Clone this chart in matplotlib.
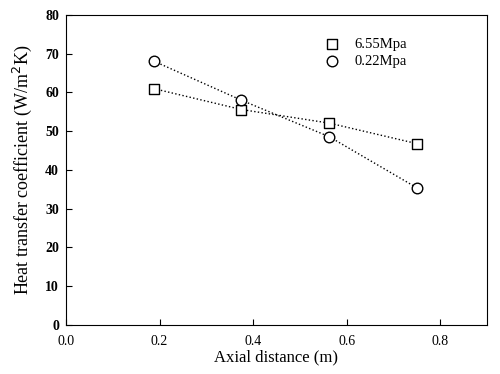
import matplotlib
matplotlib.use("Agg")
from matplotlib import pyplot as plt

# axial positions (m) and heat transfer coefficients (W/m2K)
x_vals = [0.1875, 0.375, 0.5625, 0.75]
h_655 = [61.0, 55.6, 52.1, 46.8]
h_022 = [68.1, 58.0, 48.6, 35.4]
labels = ["6.55Mpa", "0.22Mpa"]

plt.rcParams['font.family'] = ['Liberation Serif', 'DejaVu Serif']

fig = plt.figure(figsize=(5, 3.74), dpi=100)
ax = fig.add_axes([0.132, 0.131, 0.842, 0.829])

ax.plot(x_vals, h_655, ls=':', color='black', lw=1.0)
ax.plot(x_vals, h_022, ls=':', color='black', lw=1.0)
ax.scatter(x_vals, h_655, marker='s', s=42, facecolor='white',
           edgecolor='black', linewidth=1.0, zorder=3, label=labels[0])
ax.scatter(x_vals, h_022, marker='o', s=58, facecolor='white',
           edgecolor='black', linewidth=1.0, zorder=3, label=labels[1])

ax.set_xlim(0, 0.9)
ax.set_ylim(0, 80)
ax.set_xticks([0.0, 0.2, 0.4, 0.6, 0.8])
ax.set_xticklabels(["0.0", "0.2", "0.4", "0.6", "0.8"])
ax.set_yticks(range(0, 81, 10))
ax.tick_params(direction='in', length=4, labelsize=10)
ax.tick_params(axis='x', pad=7)
ax.tick_params(axis='y', pad=5)
for lbl in ax.get_yticklabels():
    lbl.set_fontweight('bold')

ax.set_xlabel("Axial distance (m)", fontsize=12, labelpad=1)
ax.set_ylabel("Heat transfer coefficient (W/m$^2$K)", fontsize=13, labelpad=8)

ax.legend(loc='upper right', bbox_to_anchor=(0.84, 0.97), frameon=False,
          fontsize=10.5, handletextpad=0.5, labelspacing=0.3)

fig.savefig("out.png", dpi=100)
